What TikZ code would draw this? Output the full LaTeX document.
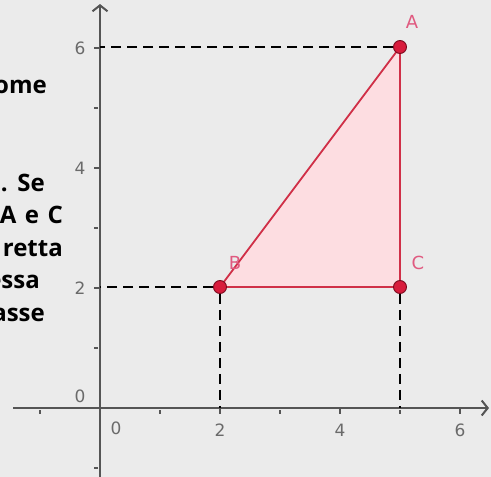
\documentclass[tikz,border=0pt]{standalone}
\usepackage{fontspec}
\setmainfont{Open Sans}
\newfontfamily\axisfont{DejaVu Sans}
\usetikzlibrary{arrows.meta,positioning}
\definecolor{bgcol}{HTML}{EBEBEB}
\definecolor{axcol}{HTML}{555555}
\definecolor{lblgray}{HTML}{6A6A6A}
\definecolor{tricol}{HTML}{D03048}
\definecolor{trifill}{HTML}{FDDDE1}
\definecolor{ptcol}{HTML}{D81C3C}
\definecolor{ptrim}{HTML}{7A0A1E}
\definecolor{vcol}{HTML}{E05A80}

\begin{document}
\begin{tikzpicture}[
    x=1pt, y=-1pt,
    axis/.style={draw=axcol, line width=2pt, -{Straight Barb[length=6pt, width=15pt]}},
    helper/.style={draw=black, line width=1.6pt, dash pattern=on 10pt off 6pt},
    tickmark/.style={draw=axcol, line width=1.6pt},
    vtx/.style={circle, fill=ptcol, draw=ptrim, line width=0.9pt, inner sep=0pt, minimum size=13pt},
    vlbl/.style={text=vcol, font=\axisfont\fontsize{18}{18}\selectfont, inner sep=0pt},
    numlbl/.style={text=lblgray, font=\axisfont\fontsize{17}{17}\selectfont, inner sep=0pt},
    para/.style={anchor=base east, font=\bfseries\fontsize{24}{24}\selectfont, inner sep=0pt}
]
% background and frame
\fill[bgcol] (0,0) rectangle (491,477);
\useasboundingbox (0,0) rectangle (491,477);
\clip (0,0) rectangle (491,477);

% text cut at the left edge
\node[para] (t1) at (47,93.5) {ome};
\node[para] (t2) at (45,191) {.\hspace{0.4em}Se};
\node[para] (t3) at (63,223.5) {A\hspace{0.35em}e\hspace{0.35em}C};
\node[para] (t4) at (63,256) {retta};
\node[para] (t5) at (40,288.5) {essa};
\node[para] (t6) at (45,321) {asse};

% axes
\coordinate (xs) at (13,408);
\coordinate (xe) at (489,408);
\coordinate (ys) at (100,477);
\coordinate (ye) at (100,4);
\draw[axis] (xs) -- (xe);
\draw[axis] (ys) -- (ye);

\foreach \i in {2,4,6} {
  \draw[tickmark] (100+60*\i,408) -- (100+60*\i,414);
  \draw[tickmark] (100,408-60*\i) -- (94,408-60*\i);
  \node[numlbl] (nx\i) at (100+60*\i,430) {\i};
  \node[numlbl] (ny\i) at (80,408-60*\i) {\i};
}
\foreach \i in {-1,1,3,5} {
  \draw[tickmark] (100+60*\i,410) -- (100+60*\i,414);
  \draw[tickmark] (98,408-60*\i) -- (94,408-60*\i);
}
\node[numlbl] (nx0) at (116,428) {0};
\node[numlbl] (ny0) at (80,396) {0};

% triangle
\coordinate (pA) at (400,47);
\coordinate (pB) at (220,287);
\coordinate (pC) at (400,287);
\filldraw[fill=trifill, draw=tricol, line width=1.8pt] (pA) -- (pB) -- (pC) -- cycle;

\coordinate (yA) at (100,47);
\coordinate (yB) at (100,287);
\coordinate (xB) at (220,408);
\coordinate (xC) at (400,408);

\node[vtx] (A) at (pA) {};
\node[vtx] (B) at (pB) {};
\node[vtx] (C) at (pC) {};

\draw[helper] (A) -- (yA);
\draw[helper] (B) -- (yB);
\draw[helper] (B) -- (xB);
\draw[helper] (C) -- (xC);

\node[vlbl] (lA) at ([shift={(12,-25)}]pA) {A};
\node[vlbl] (lB) at ([shift={(15,-24)}]pB) {B};
\node[vlbl] (lC) at ([shift={(18,-24)}]pC) {C};
\end{tikzpicture}
\end{document}
